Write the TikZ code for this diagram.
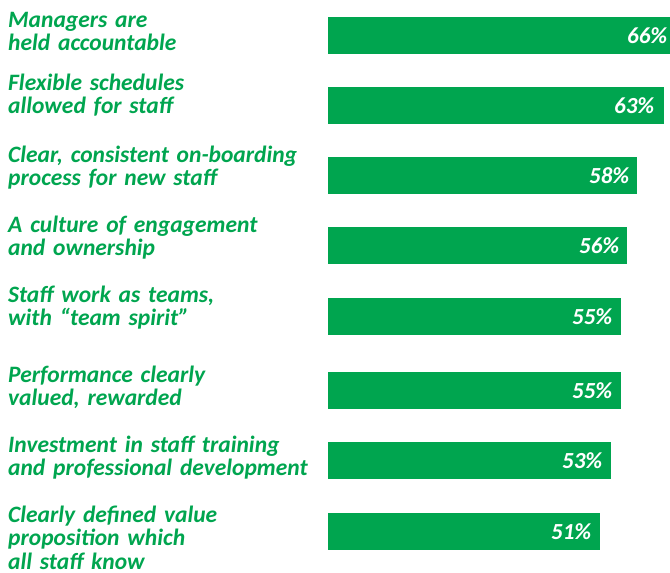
\documentclass[tikz,border=0pt]{standalone}
\usepackage{fontspec}
\setmainfont{Carlito}
\usetikzlibrary{calc}
\definecolor{bargreen}{HTML}{00A54F}
\tikzset{
  bar/.style={fill=bargreen, draw=none, inner sep=0pt, anchor=north west, minimum height=37pt},
  lbl/.style={text=bargreen, font=\fontsize{23.5}{23.8}\selectfont\bfseries\itshape, anchor=base west, inner sep=0pt, text width=330pt, align=left},
  pct/.style={text=white, font=\fontsize{23}{24}\selectfont\bfseries\itshape, anchor=base east, inner sep=0pt}
}
\begin{document}
\begin{tikzpicture}[x=1pt,y=-1pt]
\useasboundingbox (0,0) rectangle (670,573);
% labels
\node[lbl] (l1) at (8,27) {Managers are\\held accountable};
\node[lbl] (l2) at (8,90) {Flexible schedules\\allowed for staff};
\node[lbl] (l3) at (8,162) {Clear, consistent on-boarding\\process for new staff};
\node[lbl] (l4) at (8,232) {A culture of engagement\\and ownership};
\node[lbl] (l5) at (8,302) {Staff work as teams,\\with “team spirit”};
\node[lbl] (l6) at (8,382) {Performance clearly\\valued, rewarded};
\node[lbl] (l7) at (8,452) {Investment in staff training\\and professional development};
\node[lbl] (l8) at (8,522) {Clearly defined value\\proposition which\\all staff know};
% bars
\node[bar, minimum width=342.5pt] (b1) at (327.5,17) {};
\node[bar, minimum width=336.5pt] (b2) at (327.5,87) {};
\node[bar, minimum width=309.5pt] (b3) at (327.5,157) {};
\node[bar, minimum width=299.5pt] (b4) at (327.5,227) {};
\node[bar, minimum width=293.5pt] (b5) at (327.5,298) {};
\node[bar, minimum width=293.5pt] (b6) at (327.5,372) {};
\node[bar, minimum width=283.5pt] (b7) at (327.5,442) {};
\node[bar, minimum width=272.5pt] (b8) at (327.5,513) {};
% values
\node[pct] (p1) at ($(b1.east)+(-3,7.5)$) {66\%};
\node[pct] (p2) at ($(b2.east)+(-10,7.5)$) {63\%};
\node[pct] (p3) at ($(b3.east)+(-8,7.5)$) {58\%};
\node[pct] (p4) at ($(b4.east)+(-8,7.5)$) {56\%};
\node[pct] (p5) at ($(b5.east)+(-9,7.5)$) {55\%};
\node[pct] (p6) at ($(b6.east)+(-9,7.5)$) {55\%};
\node[pct] (p7) at ($(b7.east)+(-9,7.5)$) {53\%};
\node[pct] (p8) at ($(b8.east)+(-9,7.5)$) {51\%};
\end{tikzpicture}
\end{document}
